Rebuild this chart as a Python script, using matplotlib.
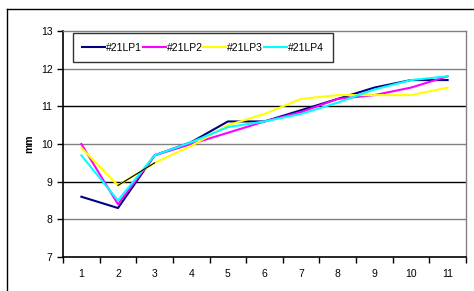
import numpy as np
import matplotlib
matplotlib.use('Agg')
import matplotlib.pyplot as plt
from matplotlib.lines import Line2D

plt.rcParams['font.family'] = ['Liberation Sans', 'DejaVu Sans']

days = [1, 2, 3, 4, 5, 6, 7, 8, 9, 10, 11]
lp1 = [8.6, 8.3, 9.7, 10.05, 10.6, 10.6, 10.9, 11.2, 11.5, 11.7, 11.7]
lp2 = [10.0, 8.4, 9.7, 10.0, 10.3, 10.6, 10.85, 11.2, 11.3, 11.5, 11.8]
lp3 = [9.9, 8.9, 9.5, 9.95, 10.5, 10.8, 11.2, 11.3, 11.3, 11.3, 11.5]
lp4 = [9.7, 8.5, 9.7, 10.05, 10.45, 10.6, 10.8, 11.1, 11.45, 11.7, 11.8]
names = ['#21LP1', '#21LP2', '#21LP3', '#21LP4']
colors = ['#000080', '#FF00FF', '#FFFF00', '#00FFFF']

fig = plt.figure(figsize=(4.74, 2.91), dpi=100)
ax = fig.add_axes([0.133, 0.117, 0.850, 0.776])

# grid lines (alternating look of the original)
for v in [8, 10, 12]:
    ax.axhline(v, color='#808080', lw=1.0, zorder=1)
for v in [9, 11]:
    ax.axhline(v, color='black', lw=1.0, zorder=1)

for ys, c, n in zip([lp1, lp2, lp3, lp4], colors, names):
    ax.plot(days, ys, color=c, lw=1.5, label=n, zorder=3)
# the 2-3 segment of LP3 shows as a thin black line in the original
ax.plot(days[1:3], lp3[1:3], color='black', lw=0.8, zorder=4)

ax.set_xlim(0.5, 11.5)
ax.set_ylim(7, 13)
ax.set_xticks(days)
ax.set_xticks(np.arange(0.5, 12, 1), minor=True)
ax.tick_params(axis='x', which='major', length=0, labelsize=7.5, pad=9)
ax.tick_params(axis='x', which='minor', length=4, direction='out', width=1)
ax.set_yticks(range(7, 14))
ax.tick_params(axis='y', length=4, direction='out', labelsize=7.5, width=1)
ax.set_ylabel('mm', fontsize=7.5, fontweight='bold', labelpad=5)

for s in ['left', 'bottom']:
    ax.spines[s].set_color('black')
    ax.spines[s].set_linewidth(1.2)
for s in ['top', 'right']:
    ax.spines[s].set_color('#808080')
    ax.spines[s].set_linewidth(1.0)

leg = ax.legend(loc='upper left', ncol=4, fontsize=7.5, frameon=True, fancybox=False,
                bbox_to_anchor=(0.025, 0.99), borderaxespad=0, handlelength=2.2,
                handletextpad=0.1, columnspacing=0.05, borderpad=0.9)
leg.get_frame().set_edgecolor('black')
leg.get_frame().set_linewidth(1.0)

# outer chart border
fig.add_artist(Line2D([7 / 474, 1], [1 - 9 / 291, 1 - 9 / 291], color='black', lw=1.0))
fig.add_artist(Line2D([7 / 474, 7 / 474], [0, 1 - 9 / 291], color='black', lw=1.0))

fig.savefig('out.png', dpi=100)
